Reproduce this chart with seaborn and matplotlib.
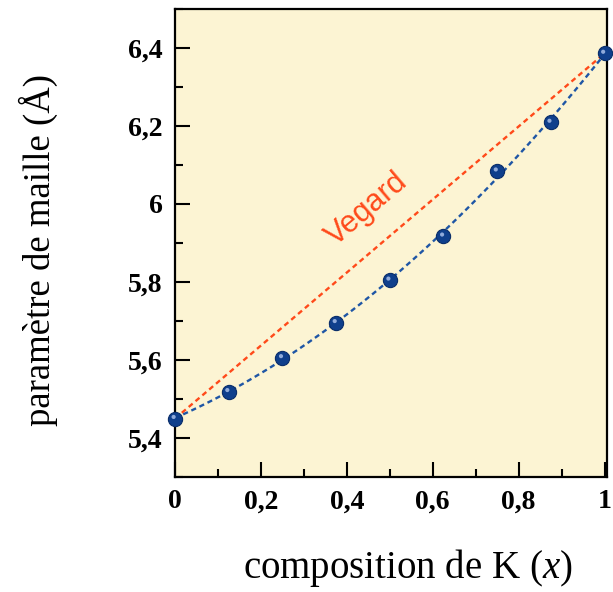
import numpy as np
import pandas as pd
import matplotlib
matplotlib.use("Agg")
import matplotlib.pyplot as plt
import matplotlib.transforms as mtransforms
from matplotlib.ticker import MultipleLocator
import seaborn as sns

# data
composition = [0.0, 0.125, 0.25, 0.375, 0.5, 0.625, 0.75, 0.875, 1.0]
lattice = [5.449, 5.518, 5.605, 5.695, 5.804, 5.917, 6.084, 6.209, 6.386]
xtick_vals = [0, 0.2, 0.4, 0.6, 0.8, 1.0]
xtick_labels = ["0", "0,2", "0,4", "0,6", "0,8", "1"]
ytick_vals = [5.4, 5.6, 5.8, 6.0, 6.2, 6.4]
ytick_labels = ["5,4", "5,6", "5,8", "6", "6,2", "6,4"]
vegard_label = "Vegard"

sns.set_theme(style="white")
plt.rcParams['font.family'] = ['Liberation Serif', 'DejaVu Serif']
plt.rcParams['mathtext.fontset'] = 'custom'
plt.rcParams['mathtext.it'] = 'Liberation Serif:italic'
plt.rcParams['mathtext.rm'] = 'Liberation Serif'
plt.rcParams['text.color'] = 'black'
plt.rcParams['axes.labelcolor'] = 'black'
plt.rcParams['xtick.color'] = 'black'
plt.rcParams['ytick.color'] = 'black'

df = pd.DataFrame({"x": composition, "a": lattice})
vegard = pd.DataFrame({"x": [composition[0], composition[-1]],
                       "a": [lattice[0], lattice[-1]]})

fig = plt.figure(figsize=(6.13, 5.92), dpi=100)
ax = fig.add_axes([0.2855, 0.1948, 0.9897 - 0.2855, 0.9848 - 0.1948])
ax.set_facecolor("#FCF4D3")

blue = "#1F56A5"
orange = "#FF4A1A"
dash = (0, (2.2, 1.6))

sns.lineplot(data=vegard, x="x", y="a", ax=ax, color=orange, lw=1.7,
             linestyle=dash, zorder=2)
sns.regplot(data=df, x="x", y="a", ax=ax, order=2, ci=None, scatter=False,
            truncate=True,
            line_kws=dict(color=blue, lw=1.7, linestyle=dash, zorder=3))
sns.scatterplot(data=df, x="x", y="a", ax=ax, s=105, color="#0F3F8C",
                edgecolor="#0A2E6A", linewidth=0.8, zorder=4, clip_on=False)
offset = mtransforms.ScaledTranslation(-1.0 / 72, 1.2 / 72, fig.dpi_scale_trans)
sns.scatterplot(data=df, x="x", y="a", ax=ax, s=9, color="#8FAADA",
                edgecolor="none", zorder=5, clip_on=False,
                transform=ax.transData + offset)

ax.text(0.447, 5.985, vegard_label, color=orange, fontsize=22, rotation=40.4,
        ha="center", va="center", family=["Liberation Sans", "DejaVu Sans"],
        rotation_mode="anchor")

ax.set_xlim(0, 1.005)
ax.set_ylim(5.3, 6.5)
ax.set_xticks(xtick_vals)
ax.set_xticklabels(xtick_labels)
ax.set_yticks(ytick_vals)
ax.set_yticklabels(ytick_labels)
ax.xaxis.set_minor_locator(MultipleLocator(0.1))
ax.yaxis.set_minor_locator(MultipleLocator(0.1))
ax.tick_params(which="both", direction="in", color="black", width=1.5,
               bottom=True, left=True, top=False, right=False,
               labelcolor="black")
ax.tick_params(which="major", length=11, pad=9, labelsize=20)
ax.tick_params(which="minor", length=6)
for lab in ax.get_xticklabels() + ax.get_yticklabels():
    lab.set_fontweight("bold")

for s in ax.spines.values():
    s.set_visible(True)
    s.set_color("black")
    s.set_linewidth(1.6)

ax.set_xlabel("composition de K ($x$)", fontsize=28)
ax.set_ylabel("paramètre de maille (Å)", fontsize=26.5)
ax.xaxis.set_label_coords(0.54, -0.150)
ax.yaxis.set_label_coords(-0.271, 0.485)

fig.savefig("out.png", dpi=100, facecolor="white")
